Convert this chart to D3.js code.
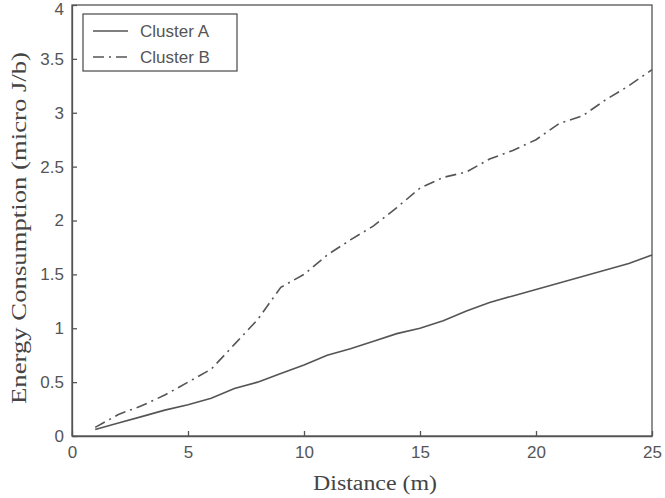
<!DOCTYPE html>
<html>
<head>
<meta charset="utf-8">
<script src="https://cdn.jsdelivr.net/npm/d3@7"></script>
<style>
  body { margin: 0; background: #fff; }
  .tick text { font-family: "Liberation Sans Narrow", "Arial Narrow", "Liberation Sans", sans-serif; font-size: 17px; fill: #555; }
  .title { font-family: "Liberation Serif", "Times New Roman", serif; fill: #444; }
</style>
</head>
<body>
<div id="chart"></div>
<script>
// distance (m)
var distance = [1,2,3,4,5,6,7,8,9,10,11,12,13,14,15,16,17,18,19,20,21,22,23,24,25];
// energy, micro J/b
var clusterA = [0.06,0.12,0.18,0.24,0.29,0.35,0.44,0.50,0.58,0.66,0.75,0.81,0.88,0.95,1.00,1.07,1.16,1.24,1.30,1.36,1.42,1.48,1.54,1.60,1.68];
var clusterB = [0.08,0.20,0.28,0.38,0.50,0.62,0.85,1.08,1.38,1.50,1.68,1.82,1.95,2.12,2.30,2.40,2.45,2.57,2.65,2.75,2.90,2.97,3.12,3.25,3.40];
var xTicks = [0,5,10,15,20,25];
var yTicks = [0,0.5,1,1.5,2,2.5,3,3.5,4];
var seriesNames = ["Cluster A", "Cluster B"];

var W = 665, H = 498;
var margin = {top: 5, right: 13, bottom: 62, left: 72};
var w = W - margin.left - margin.right,
    h = H - margin.top - margin.bottom;

var svg = d3.select("#chart").append("svg")
  .attr("width", W)
  .attr("height", H);

var g = svg.append("g")
  .attr("transform", "translate(" + margin.left + "," + margin.top + ")");

var x = d3.scaleLinear().domain([0, 25]).range([0, w]);
var y = d3.scaleLinear().domain([0, 4]).range([h, 0]);

// axes, ticks pointing inwards
g.append("g")
  .attr("transform", "translate(0," + h + ")")
  .call(d3.axisBottom(x).tickValues(xTicks).tickSizeInner(-5).tickSizeOuter(0).tickPadding(10).tickFormat(d3.format("d")));
var yAxis = g.append("g")
  .call(d3.axisLeft(y).tickValues(yTicks).tickSizeInner(-5).tickSizeOuter(0).tickPadding(8).tickFormat(function(d){ return d; }));
g.selectAll(".domain, .tick line").attr("stroke", "#555").attr("stroke-width", 1.3);
// keep the top label inside the page
yAxis.selectAll(".tick text").filter(function(d){ return d == 4; }).attr("dy", "0.55em");

// box
g.append("rect")
  .attr("width", w).attr("height", h)
  .attr("fill", "none").attr("stroke", "#555").attr("stroke-width", 1.3);

var line = d3.line()
  .x(function(d, i){ return x(distance[i]); })
  .y(function(d){ return y(d); });

g.append("path")
  .datum(clusterA)
  .attr("d", line)
  .attr("fill", "none").attr("stroke", "#555").attr("stroke-width", 1.6);

g.append("path")
  .datum(clusterB)
  .attr("d", line)
  .attr("fill", "none").attr("stroke", "#555").attr("stroke-width", 1.6)
  .attr("stroke-dasharray", "11,5,2,5");

// legend
var lg = g.append("g").attr("transform", "translate(11,9)");
lg.append("rect").attr("width", 154).attr("height", 57)
  .attr("fill", "#fff").attr("stroke", "#555").attr("stroke-width", 1.3);
seriesNames.forEach(function(name, i){
  var yy = 17 + i * 26;
  lg.append("line").attr("x1", 10).attr("x2", 45).attr("y1", yy).attr("y2", yy)
    .attr("stroke", "#555").attr("stroke-width", 1.6)
    .attr("stroke-dasharray", i == 1 ? "11,5,2,5" : null);
  lg.append("text").attr("x", 57).attr("y", yy).attr("dy", "0.35em")
    .style("font-family", "'Liberation Sans', Arial, sans-serif")
    .style("font-size", "17px").style("fill", "#555")
    .text(name);
});

// titles (stretched a bit, like the original)
svg.append("text").attr("class", "title")
  .attr("x", 375).attr("y", 490)
  .attr("text-anchor", "middle")
  .style("font-size", "20px")
  .attr("textLength", 124).attr("lengthAdjust", "spacingAndGlyphs")
  .text("Distance (m)");

svg.append("text").attr("class", "title")
  .attr("transform", "translate(26,228) rotate(-90)")
  .attr("text-anchor", "middle")
  .style("font-size", "21px")
  .attr("textLength", 352).attr("lengthAdjust", "spacingAndGlyphs")
  .text("Energy Consumption (micro J/b)");
</script>
</body>
</html>
